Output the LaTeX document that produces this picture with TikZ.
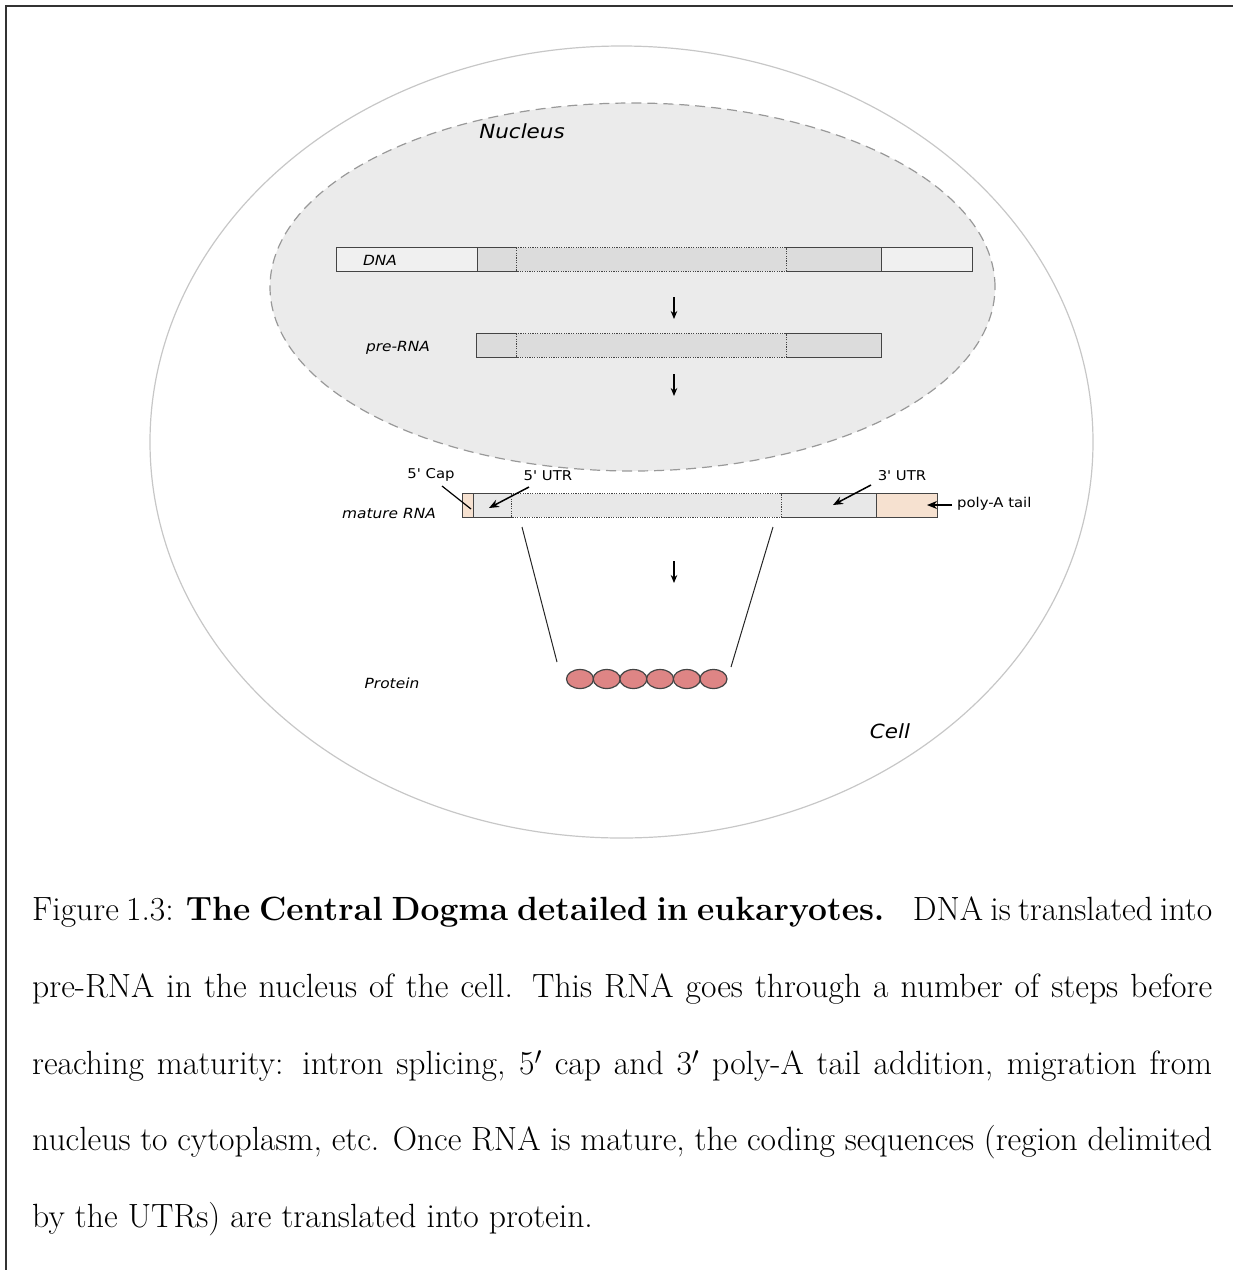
\documentclass[tikz,border=0pt]{standalone}
\usepackage{fontspec}
\newfontfamily\dv{DejaVu Sans}
\usetikzlibrary{arrows.meta,shapes.geometric}
\definecolor{nucfill}{HTML}{EBEBEB}
\definecolor{segdark}{HTML}{DCDCDC}
\definecolor{seglight}{HTML}{F0F0F0}
\definecolor{matfill}{HTML}{E8E8E8}
\definecolor{peach}{HTML}{F6E1D0}
\definecolor{prot}{HTML}{DE8585}
\definecolor{edge}{HTML}{444444}
\newcommand\wid[1]{\scalebox{1.1}[1]{#1}}
\tikzset{
  seg/.style={rectangle, inner sep=0pt, minimum height=23pt, draw=none},
  bar/.style={draw=edge, line width=1.2pt},
  dotbar/.style={draw=edge, line width=1.2pt, dash pattern=on 1.2pt off 1.2pt},
  lab/.style={inner sep=0pt, font=\dv\itshape\fontsize{14}{16}\selectfont},
  tag/.style={inner sep=0pt, font=\dv\fontsize{13.5}{15}\selectfont},
  big/.style={inner sep=0pt, font=\dv\itshape\fontsize{19.5}{21}\selectfont},
  flow/.style={-{Stealth[length=8pt,width=6.5pt]}, line width=1.3pt, black},
  ptr/.style={-{Stealth[length=10pt,width=8pt]}, line width=1.5pt, black},
  bead/.style={ellipse, draw=edge, line width=1.2pt, fill=prot, minimum width=27pt, minimum height=19pt, inner sep=0pt},
  capline/.style={inner sep=0pt, anchor=base west, font=\fontsize{33.6}{40}\selectfont}
}
\begin{document}
\begin{tikzpicture}[x=1pt,y=-1pt]
\useasboundingbox (0,0) rectangle (1233,1270);
% frame
\draw[line width=1.5pt, color=black!80] (1233,6) -- (6,6) -- (6,1270);
% cell
\node[ellipse, draw=black!22, line width=1.2pt, minimum width=943pt, minimum height=792pt, inner sep=0pt] (cell) at (621.5,442) {};
% nucleus
\node[ellipse, draw=black!40, fill=nucfill, line width=1.2pt, dash pattern=on 10pt off 6pt, minimum width=725pt, minimum height=368pt, inner sep=0pt] (nuc) at (632.5,287) {};
\node[big] (nuclab) at (522,131) {\wid{Nucleus}};
\node[big] (celllab) at (890,731) {\wid{Cell}};

% DNA
\node[seg, fill=seglight, minimum width=140pt] (d1) at (407,259.5) {};
\node[seg, fill=segdark, minimum width=40pt] (d2) at (497,259.5) {};
\node[seg, fill=segdark, minimum width=269pt] (d3) at (651.5,259.5) {};
\node[seg, fill=segdark, minimum width=95pt] (d4) at (833.5,259.5) {};
\node[seg, fill=seglight, minimum width=91pt] (d5) at (926.5,259.5) {};
\draw[bar] (d3.north west) -| (d1.south west) -- (d3.south west);
\draw[bar] (d3.north east) -| (d5.south east) -- (d3.south east);
\draw[bar] (d1.north east) -- (d1.south east);
\draw[bar] (d4.north east) -- (d4.south east);
\draw[dotbar] (d3.north west) rectangle (d3.south east);
\node[lab] (dnalab) at (380,260) {\wid{DNA}};

% pre-RNA
\node[seg, fill=segdark, minimum width=40pt] (p1) at (497,345.5) {};
\node[seg, fill=segdark, minimum width=269pt] (p2) at (651.5,345.5) {};
\node[seg, fill=segdark, minimum width=95pt] (p3) at (833.5,345.5) {};
\draw[bar] (p2.north west) -| (p1.south west) -- (p2.south west);
\draw[bar] (p2.north east) -| (p3.south east) -- (p2.south east);
\draw[dotbar] (p2.north west) rectangle (p2.south east);
\node[lab] (prelab) at (398,348) {\wid{pre-RNA}};

% mature RNA
\node[seg, fill=peach, minimum width=10pt] (m0) at (468,505.5) {};
\node[seg, fill=matfill, minimum width=39pt] (m1) at (492.5,505.5) {};
\node[seg, fill=matfill, minimum width=269pt] (m2) at (646.5,505.5) {};
\node[seg, fill=matfill, minimum width=95pt] (m3) at (828.5,505.5) {};
\node[seg, fill=peach, minimum width=61pt] (m4) at (906.5,505.5) {};
\draw[bar] (m2.north west) -| (m0.south west) -- (m2.south west);
\draw[bar] (m2.north east) -| (m4.south east) -- (m2.south east);
\draw[bar] (m0.north east) -- (m0.south east);
\draw[bar] (m3.north east) -- (m3.south east);
\draw[dotbar] (m2.north west) rectangle (m2.south east);
\node[lab] (matlab) at (389,513) {\wid{mature RNA}};

% flow arrows
\coordinate (a1s) at (674,297); \coordinate (a1e) at (674,319);
\coordinate (a2s) at (674,374); \coordinate (a2e) at (674,396);
\coordinate (a3s) at (674,561); \coordinate (a3e) at (674,583);
\draw[flow] (a1s) -- (a1e);
\draw[flow] (a2s) -- (a2e);
\draw[flow] (a3s) -- (a3e);

% labels with pointers
\node[tag] (caplab) at (431,475) {\wid{5' Cap}};
\node[tag] (utr5) at (548,476) {\wid{5' UTR}};
\node[tag] (utr3) at (902,476) {\wid{3' UTR}};
\node[tag, anchor=west] (polya) at (957,504) {\wid{poly-A tail}};
\coordinate (capend) at (471,509);
\coordinate (u5s) at (529,487); \coordinate (u5e) at (489,508);
\coordinate (u3s) at (871,485); \coordinate (u3e) at (833,505);
\coordinate (pae) at (927,505);
\draw[line width=1.2pt, black] (442,486) -- (capend);
\draw[ptr] (u5s) -- (u5e);
\draw[ptr] (u3s) -- (u3e);
\draw[ptr] (polya.west) ++(-5,1) -- (pae);

% protein
\foreach \i/\xx in {1/580,2/606.7,3/633.4,4/660.1,5/686.8,6/713.5}
  \node[bead] (b\i) at (\xx,679) {};
\node[lab] (protlab) at (392,683) {\wid{Protein}};
\coordinate (ll1) at (522,527); \coordinate (ll2) at (557,662);
\coordinate (rl1) at (773,527); \coordinate (rl2) at (731,667);
\draw[line width=1pt, black!85] (ll1) -- (ll2);
\draw[line width=1pt, black!85] (rl1) -- (rl2);

% caption
\node[capline] (c1) at (32,920) {\makebox[1180pt][s]{Figure 1.3: \textbf{The Central Dogma detailed in eukaryotes.}\hspace{16pt} DNA is translated into}};
\node[capline] (c2) at (32,997) {\makebox[1180pt][s]{pre-RNA in the nucleus of the cell. This RNA goes through a number of steps before}};
\node[capline] (c3) at (32,1074) {\makebox[1180pt][s]{reaching maturity: intron splicing, 5$'$ cap and 3$'$ poly-A tail addition, migration from}};
\node[capline] (c4) at (32,1150) {\makebox[1180pt][s]{nucleus to cytoplasm, etc. Once RNA is mature, the coding sequences (region delimited}};
\node[capline] (c5) at (32,1227) {by the UTRs) are translated into protein.};
\end{tikzpicture}
\end{document}
